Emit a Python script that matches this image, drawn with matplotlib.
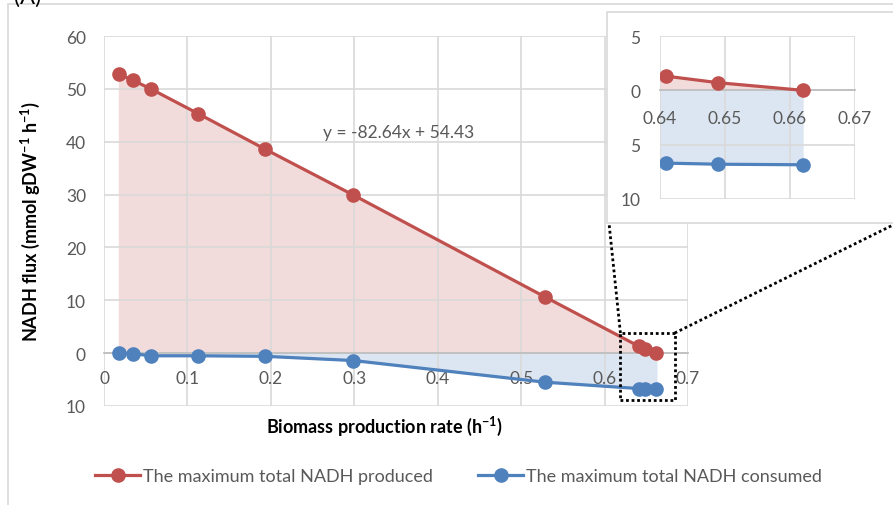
import numpy as np
import matplotlib.pyplot as plt
from matplotlib.patches import Rectangle
from matplotlib.lines import Line2D
from matplotlib.ticker import FuncFormatter

plt.rcParams['font.family'] = ['Lato', 'DejaVu Sans']
plt.rcParams['mathtext.default'] = 'regular'

# data
biomass = [0.018, 0.035, 0.056, 0.113, 0.193, 0.299, 0.529, 0.641, 0.649, 0.662]
nadh_produced = [52.8, 51.6, 50.0, 45.3, 38.6, 29.9, 10.6, 1.3, 0.7, 0.0]
nadh_consumed = [0.0, -0.1, -0.5, -0.5, -0.6, -1.4, -5.5, -6.7, -6.8, -6.85]

x_ticks = [0, 0.1, 0.2, 0.3, 0.4, 0.5, 0.6, 0.7]
y_ticks = [-10, 0, 10, 20, 30, 40, 50, 60]
inset_x_ticks = [0.64, 0.65, 0.66, 0.67]
inset_y_ticks = [-10, -5, 0, 5]

red = '#C0504D'
blue = '#4F81BD'
grid_c = '#D9D9D9'
tick_c = '#595959'

W, H = 893, 506
fig = plt.figure(figsize=(W / 100, H / 100), dpi=100)

# outer chart frame
fig.patches.append(Rectangle((8 / W, -0.1), 1.2, (H - 5) / H + 0.1, transform=fig.transFigure,
                             facecolor='none', edgecolor='#D9D9D9', lw=1.2))
fig.text(14 / W, 1 - 4 / H, '(A)', fontsize=16, va='baseline', color='black')

absfmt = FuncFormatter(lambda v, p: f'{abs(v):g}')


def style(ax, xt, yt, xlim, ylim, fs, xpad, ypad):
    ax.set_xlim(*xlim)
    ax.set_ylim(*ylim)
    ax.set_xticks(xt)
    ax.set_yticks(yt)
    ax.grid(True, color=grid_c, lw=1.2, zorder=0)
    for s in ax.spines.values():
        s.set_visible(False)
    ax.spines['bottom'].set_visible(True)
    ax.spines['bottom'].set_position(('data', 0))
    ax.spines['bottom'].set_color('#BFBFBF')
    ax.spines['bottom'].set_linewidth(1.3)
    ax.tick_params(length=0, labelsize=fs, colors=tick_c)
    ax.tick_params(axis='x', pad=xpad)
    ax.tick_params(axis='y', pad=ypad)
    ax.yaxis.set_major_formatter(absfmt)
    ax.xaxis.set_major_formatter(FuncFormatter(lambda v, p: f'{v:g}'))


# main axes
ax = fig.add_axes([104 / W, 1 - 407 / H, 584 / W, 370 / H])
style(ax, x_ticks, y_ticks, (0, 0.7), (-10, 60), 12.5, 12, 13)
ax.fill_between(biomass, nadh_produced, 0, color='#F2DCDB', zorder=1)
ax.fill_between(biomass, nadh_consumed, 0, color='#DCE6F2', zorder=1)
ax.plot(biomass, nadh_produced, '-o', color=red, lw=2.3, ms=9.5, zorder=3,
        label='The maximum total NADH produced')
ax.plot(biomass, nadh_consumed, '-o', color=blue, lw=2.3, ms=9.5, zorder=3,
        label='The maximum total NADH consumed')
ax.text(0.353, 41.9, 'y = -82.64x + 54.43', fontsize=12.5, color=tick_c, ha='center', va='center')
ax.set_xlabel('Biomass production rate (h$^{-1}$)', fontsize=13, fontweight='bold')
ax.xaxis.set_label_coords(0.48, -0.02)
ax.set_ylabel('NADH flux (mmol gDW$^{-1}$ h$^{-1}$)', fontsize=13, fontweight='bold')
ax.yaxis.set_label_coords(-0.107, 0.5)

# zoom box on the main axes
ax.add_patch(Rectangle((0.619, -8.8), 0.065, 12.6, facecolor='none', edgecolor='black',
                       lw=2, linestyle=(0, (1, 1)), zorder=5, clip_on=False))

ax.legend(loc='center', bbox_to_anchor=(0.607, -0.19), ncol=2, frameon=False,
          fontsize=13, labelcolor=tick_c, handlelength=2.5, columnspacing=2.5, handletextpad=0.15)

# inset frame
fig.patches.append(Rectangle((607 / W, 1 - 224 / H), 0.5, 211 / H, transform=fig.transFigure,
                             facecolor='white', edgecolor='#D9D9D9', lw=1.2, zorder=2))

# connector lines
x0, y0 = ax.transData.transform((0.619, 3.8))
x1, y1 = ax.transData.transform((0.684, 3.8))
fx0, fy0 = fig.transFigure.inverted().transform((x0, y0))
fx1, fy1 = fig.transFigure.inverted().transform((x1, y1))
fig.lines.append(Line2D([fx0, 609 / W], [fy0, 1 - 224 / H], transform=fig.transFigure,
                        color='black', lw=2, linestyle=(0, (1, 1)), zorder=6))
fig.lines.append(Line2D([fx1, 1.0], [fy1, 1 - 226 / H], transform=fig.transFigure,
                        color='black', lw=2, linestyle=(0, (1, 1)), zorder=6))

# inset axes
axi = fig.add_axes([660 / W, 1 - 200 / H, 195 / W, 163 / H], zorder=3)
style(axi, inset_x_ticks, inset_y_ticks, (0.64, 0.67), (-10, 5), 12.5, 14, 14)
axi.fill_between(biomass, nadh_produced, 0, color='#F2DCDB', zorder=1)
axi.fill_between(biomass, nadh_consumed, 0, color='#DCE6F2', zorder=1)
axi.plot(biomass, nadh_produced, '-o', color=red, lw=2.3, ms=9.5, zorder=3)
axi.plot(biomass, nadh_consumed, '-o', color=blue, lw=2.3, ms=9.5, zorder=3)
axi.patch.set_alpha(0)

fig.savefig('out.png', dpi=100)
